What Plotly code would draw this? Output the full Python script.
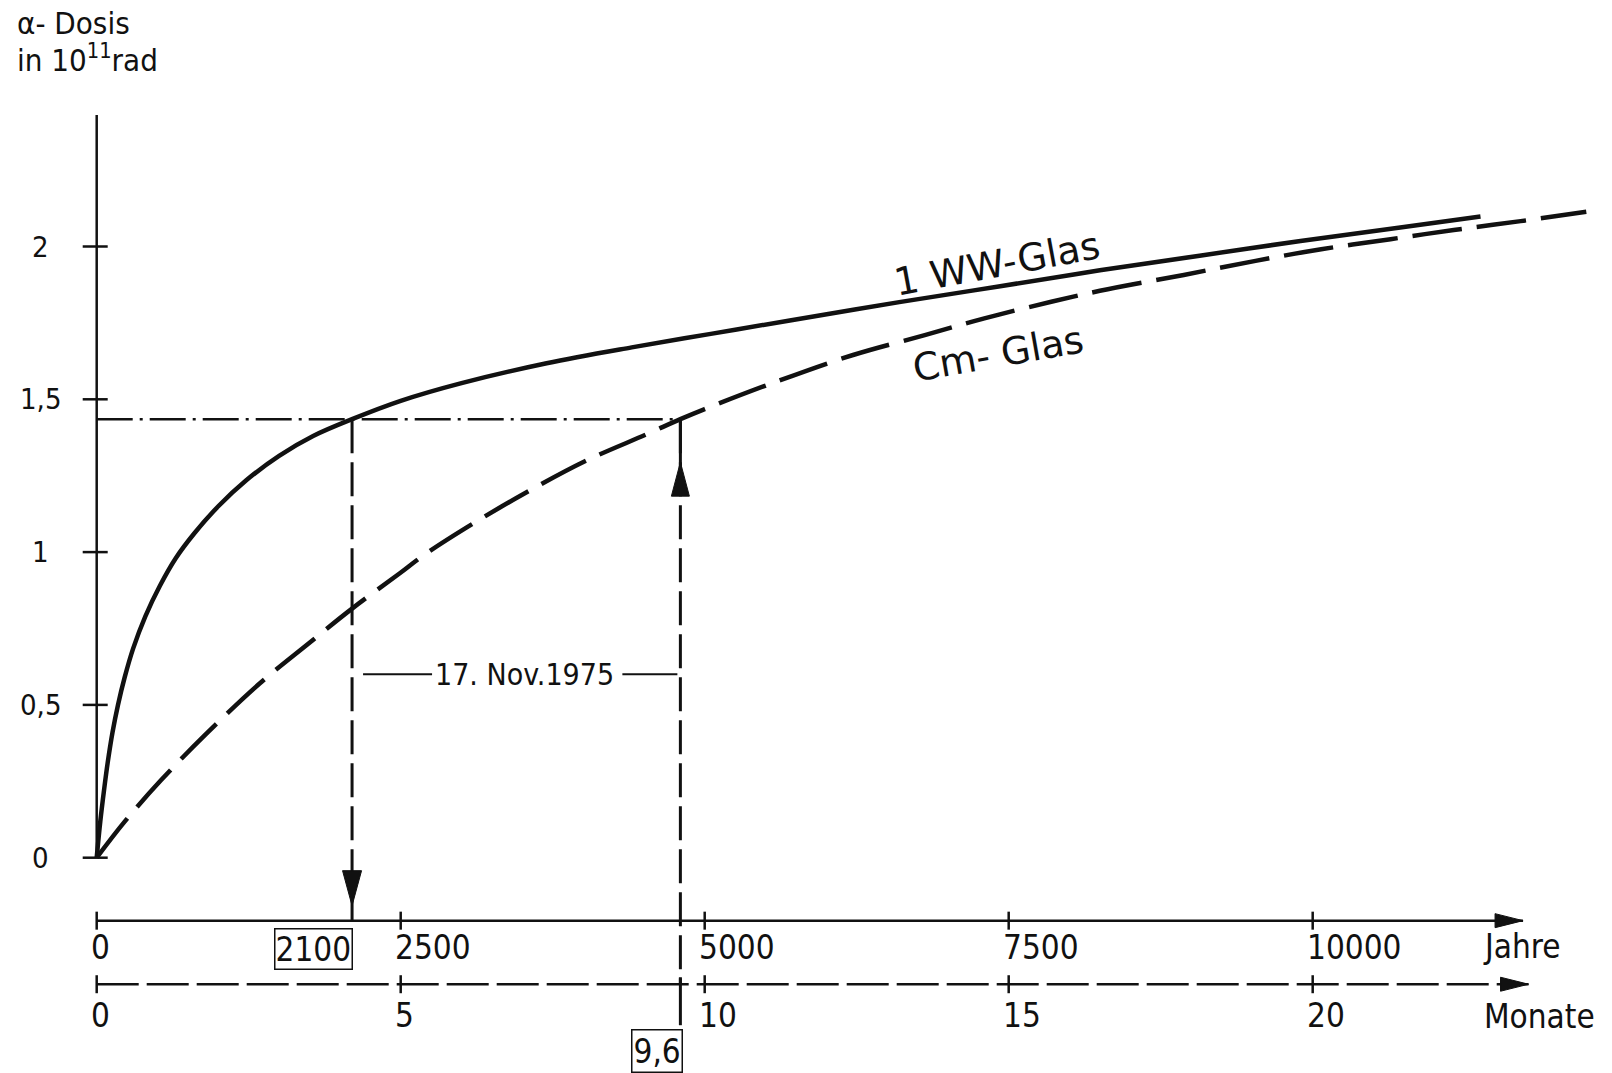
import plotly.graph_objects as go

# Accumulated alpha dose (10^11 rad) of the two glasses.
# WW glass is read on the year scale, Cm glass on the month scale (1 month = 500 years).
ww_years = [0, 30, 60, 90, 130, 175, 230, 300, 400, 520, 650, 800, 1000, 1230, 1500,
            1780, 2100, 2500, 3000, 3700, 4400, 5050, 5700, 6600, 7430, 8250, 9070,
            9900, 10720, 11380]
ww_dose = [0, 0.12, 0.22, 0.31, 0.41, 0.50, 0.59, 0.685, 0.79, 0.89, 0.98, 1.06, 1.15,
           1.235, 1.315, 1.38, 1.435, 1.495, 1.553, 1.618, 1.670, 1.714, 1.758, 1.818,
           1.870, 1.922, 1.970, 2.018, 2.062, 2.098]

cm_years = [0, 230, 530, 900, 1340, 1740, 2100, 2490, 2690, 3040, 3510, 4030, 4520, 4800,
            5000, 5550, 6220, 6810, 7300, 7850, 8250, 8940, 9530, 10070, 10640, 11160,
            11710, 12250]
cm_dose = [0, 0.118, 0.254, 0.405, 0.57, 0.70, 0.815, 0.93, 0.99, 1.08, 1.19, 1.30,
           1.385, 1.435, 1.468, 1.552, 1.645, 1.710, 1.765, 1.819, 1.855, 1.907, 1.953,
           1.991, 2.024, 2.054, 2.083, 2.114]

YEARS_PER_MONTH = 500

dose_ticks = [0, 0.5, 1, 1.5, 2]
dose_tick_text = ["0", "0,5", "1", "1,5", "2"]
year_ticks = [0, 2500, 5000, 7500, 10000]
year_tick_text = ["0", "2500", "5000", "7500", "10000"]
month_ticks = [0, 5, 10, 15, 20]
month_tick_text = ["0", "5", "10", "15", "20"]

# equal dose reached by both glasses
equal_dose = 1.435
ww_years_equal = 2100
cm_months_equal = 9.6
date_text = "17. Nov.1975"

# drawing frame (data units)
X_RANGE = [-795.2, 12461.4]
Y_RANGE = [-0.7045, 2.8066]
DOSE_AXIS_TOP = 2.43
AXIS_YEARS_Y = -0.206
AXIS_MONTHS_Y = -0.414
YEARS_END = 11730
MONTHS_END = 23.55
DATE_LINE_Y = 0.6

FONT = "DejaVu Sans Condensed, DejaVu Sans, sans-serif"
BLACK = "#111111"

fig = go.Figure()
fig.add_trace(go.Scatter(x=ww_years, y=ww_dose, mode="lines",
                         line=dict(color=BLACK, width=4.5, shape="spline", smoothing=1.0),
                         hoverinfo="skip", showlegend=False))
fig.add_trace(go.Scatter(x=cm_years, y=cm_dose, mode="lines",
                         line=dict(color=BLACK, width=4.5, dash="50px,15px",
                                   shape="spline", smoothing=1.0),
                         hoverinfo="skip", showlegend=False))

shapes = []


def seg(x0, y0, x1, y1, width=2.5, dash="solid", xref="x"):
    shapes.append(dict(type="line", xref=xref, yref="y", x0=x0, y0=y0, x1=x1, y1=y1,
                       line=dict(color=BLACK, width=width, dash=dash)))


def vtick(x, y_anchor, up, down, width=2.5, xref="x", dash="solid"):
    shapes.append(dict(type="line", xref=xref, yref="y", ysizemode="pixel",
                       yanchor=y_anchor, x0=x, x1=x, y0=-down, y1=up,
                       line=dict(color=BLACK, width=width, dash=dash)))


def hpix(y, x_anchor, px0, px1, width=2.5, xref="x"):
    shapes.append(dict(type="line", xref=xref, yref="y", xsizemode="pixel",
                       xanchor=x_anchor, x0=px0, x1=px1, y0=y, y1=y,
                       line=dict(color=BLACK, width=width)))


def head(x_anchor, y_anchor, path, xref="x"):
    shapes.append(dict(type="path", xref=xref, yref="y", xsizemode="pixel",
                       ysizemode="pixel", xanchor=x_anchor, yanchor=y_anchor, path=path,
                       fillcolor=BLACK, line=dict(color=BLACK, width=1)))


# dose axis with crossing ticks
seg(0, 0, 0, DOSE_AXIS_TOP, width=2.5)
for v in dose_ticks:
    hpix(v, 0, -14, 11)

# year axis
seg(0, AXIS_YEARS_Y, YEARS_END, AXIS_YEARS_Y, width=2.5)
for t in year_ticks:
    vtick(t, AXIS_YEARS_Y, 9, 9)
head(YEARS_END, AXIS_YEARS_Y, "M0,0 L-28,7 L-28,-7 Z")

# month axis (dashed)
seg(0, AXIS_MONTHS_Y, MONTHS_END, AXIS_MONTHS_Y, width=2.5, dash="42px,8px", xref="x2")
for t in month_ticks:
    vtick(t, AXIS_MONTHS_Y, 9, 9, xref="x2")
head(MONTHS_END, AXIS_MONTHS_Y, "M0,0 L-28,7 L-28,-7 Z", xref="x2")

# equal-dose reading lines
cm_years_equal = cm_months_equal * YEARS_PER_MONTH
seg(0, equal_dose, cm_years_equal, equal_dose, width=2.5, dash="36px,7px,3px,7px")
seg(ww_years_equal, equal_dose, ww_years_equal, AXIS_YEARS_Y, width=3, dash="34px,9px")
head(ww_years_equal, AXIS_YEARS_Y, "M0,15 L-9.5,50 L9.5,50 Z")
seg(cm_years_equal, equal_dose, cm_years_equal, AXIS_MONTHS_Y, width=3, dash="34px,9px")
vtick(cm_years_equal, equal_dose, 0, 77, width=3)
head(cm_years_equal, equal_dose, "M0,-43 L-9,-77 L9,-77 Z")
vtick(cm_months_equal, AXIS_MONTHS_Y, 7, 41, width=3, xref="x2")

# bracket for the date
hpix(DATE_LINE_Y, ww_years_equal, 11, 80, width=2)
hpix(DATE_LINE_Y, cm_years_equal, -58, -3, width=2)

annotations = []


def label(text, x, y, size=33, xref="x", yref="y", xanchor="left", yanchor="middle",
          xshift=0, yshift=0, angle=0, family=FONT, **kw):
    annotations.append(dict(text=text, x=x, y=y, xref=xref, yref=yref, xanchor=xanchor,
                            yanchor=yanchor, xshift=xshift, yshift=yshift,
                            textangle=angle, showarrow=False,
                            font=dict(family=family, size=size, color=BLACK), **kw))


for v, t in zip(dose_ticks, dose_tick_text):
    label(t, 0, v, size=29, xanchor="center", xshift=-56)
for v, t in zip(year_ticks, year_tick_text):
    label(t, v, AXIS_YEARS_Y, xshift=-8, yshift=-27)
for v, t in zip(month_ticks, month_tick_text):
    label(t, v, AXIS_MONTHS_Y, xref="x2", xshift=-8, yshift=-31)

label("Jahre", YEARS_END, AXIS_YEARS_Y, xshift=-42, yshift=-26)
label("Monate", MONTHS_END, AXIS_MONTHS_Y, xref="x2", xshift=-47, yshift=-32)

label(str(ww_years_equal), ww_years_equal, AXIS_YEARS_Y, xanchor="right", xshift=1,
      yshift=-28, bordercolor=BLACK, borderwidth=1.5, borderpad=0)
label(f"{cm_months_equal:.1f}".replace(".", ","), cm_months_equal, AXIS_MONTHS_Y,
      xref="x2", xanchor="right", xshift=3, yshift=-67, bordercolor=BLACK,
      borderwidth=1.5, borderpad=1)

label(date_text, (ww_years_equal + cm_years_equal) / 2, DATE_LINE_Y, size=30,
      xanchor="center", xshift=8)

label("1 WW-Glas", 7400, 1.942, size=38, xanchor="center", angle=-10.5,
      family="DejaVu Sans, sans-serif")
label("Cm- Glas", 7410, 1.648, size=38, xanchor="center", angle=-10,
      family="DejaVu Sans, sans-serif")

label("α- Dosis", 15 / 1612, 1 - 23 / 1073, size=31, xref="paper", yref="paper")
label("in 10<sup>11</sup>rad", 15 / 1612, 1 - 58 / 1073, size=31, xref="paper",
      yref="paper")

fig.update_layout(
    width=1612, height=1073,
    margin=dict(l=0, r=0, t=0, b=0),
    paper_bgcolor="white", plot_bgcolor="white",
    xaxis=dict(range=X_RANGE, visible=False, fixedrange=True),
    xaxis2=dict(range=[X_RANGE[0] / YEARS_PER_MONTH, X_RANGE[1] / YEARS_PER_MONTH],
                overlaying="x", visible=False, fixedrange=True),
    yaxis=dict(range=Y_RANGE, visible=False, fixedrange=True),
    shapes=shapes,
    annotations=annotations,
    showlegend=False,
)

fig.write_html("out.html")
